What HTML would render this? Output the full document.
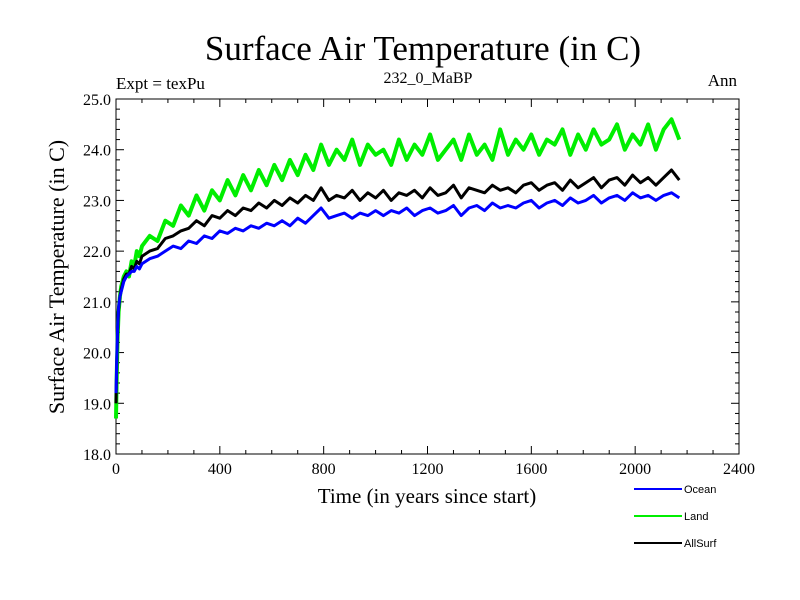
<!DOCTYPE html>
<html><head><meta charset="utf-8"><style>
body{margin:0;background:#fff}
svg{display:block}
text{font-family:"Liberation Serif",serif;fill:#000}
.lg{font-family:"Liberation Sans",sans-serif;font-size:11px}
</style></head><body>
<svg id="chart" width="800" height="600">
<text x="423" y="60" font-size="35" text-anchor="middle">Surface Air Temperature (in C)</text>
<text x="116" y="89" font-size="17">Expt = texPu</text>
<text x="428" y="83" font-size="16" text-anchor="middle">232_0_MaBP</text>
<text x="737" y="86" font-size="17" text-anchor="end">Ann</text>
<text x="427" y="503" font-size="21" text-anchor="middle">Time (in years since start)</text>
<text transform="translate(64,277) rotate(-90)" font-size="22" text-anchor="middle">Surface Air Temperature (in C)</text>
<g id="axes"></g>
<g id="series"></g>
<g id="legend"></g>
</svg>
<script>
const years=[0,3,6,10,15,20,30,40,50,60,70,80,90,100,130,160,190,220,250,280,310,340,370,400,430,460,490,520,550,580,610,640,670,700,730,760,790,820,850,880,910,940,970,1000,1030,1060,1090,1120,1150,1180,1210,1240,1270,1300,1330,1360,1390,1420,1450,1480,1510,1540,1570,1600,1630,1660,1690,1720,1750,1780,1810,1840,1870,1900,1930,1960,1990,2020,2050,2080,2110,2140,2170];
const ocean=[19.2,19.9,20.5,20.9,21.1,21.2,21.4,21.5,21.55,21.6,21.6,21.7,21.65,21.75,21.85,21.9,22.0,22.1,22.05,22.2,22.15,22.3,22.25,22.4,22.35,22.45,22.4,22.5,22.45,22.55,22.5,22.6,22.5,22.65,22.55,22.7,22.85,22.65,22.7,22.75,22.65,22.75,22.7,22.8,22.7,22.8,22.75,22.85,22.7,22.8,22.85,22.75,22.8,22.9,22.7,22.85,22.9,22.8,22.95,22.85,22.9,22.85,22.95,23.0,22.85,22.95,23.0,22.9,23.05,22.95,23.0,23.1,22.95,23.05,23.1,23.0,23.15,23.05,23.1,23.0,23.1,23.15,23.05];
const land=[18.7,19.6,20.3,20.8,21.1,21.3,21.5,21.6,21.5,21.8,21.7,22.0,21.9,22.1,22.3,22.2,22.6,22.5,22.9,22.7,23.1,22.8,23.2,23.0,23.4,23.1,23.5,23.2,23.6,23.3,23.7,23.4,23.8,23.5,23.9,23.6,24.1,23.7,24.0,23.8,24.2,23.7,24.1,23.9,24.0,23.7,24.2,23.8,24.1,23.9,24.3,23.8,24.0,24.2,23.8,24.3,23.9,24.1,23.8,24.4,23.9,24.2,24.0,24.3,23.9,24.2,24.1,24.4,23.9,24.3,24.0,24.4,24.1,24.2,24.5,24.0,24.3,24.1,24.5,24.0,24.4,24.6,24.2];
const allSurf=[19.0,19.8,20.4,20.85,21.1,21.25,21.45,21.55,21.55,21.7,21.65,21.8,21.75,21.9,22.0,22.05,22.25,22.3,22.4,22.45,22.6,22.5,22.7,22.65,22.8,22.7,22.85,22.8,22.95,22.85,23.0,22.9,23.05,22.95,23.1,23.0,23.25,23.0,23.1,23.05,23.2,23.0,23.15,23.05,23.2,23.0,23.15,23.1,23.2,23.05,23.25,23.1,23.15,23.3,23.05,23.25,23.2,23.15,23.3,23.2,23.25,23.15,23.3,23.35,23.2,23.3,23.35,23.2,23.4,23.25,23.35,23.45,23.25,23.4,23.45,23.3,23.5,23.35,23.45,23.3,23.45,23.6,23.4];
const xTicks=[0,400,800,1200,1600,2000,2400];
const yTicks=[18.0,19.0,20.0,21.0,22.0,23.0,24.0,25.0];
const seriesNames=["Land","AllSurf","Ocean"];
const seriesColors=["#00ee00","#000000","#0000ff"];
const seriesWidths=[4,3,3];
const legendNames=["Ocean","Land","AllSurf"];
const legendColors=["#0000ff","#00ee00","#000000"];

const L=116,R=739,T=99,B=454,X0=0,X1=2400,Y0=18,Y1=25;
const sx=v=>L+(v-X0)/(X1-X0)*(R-L);
const sy=v=>B-(v-Y0)/(Y1-Y0)*(B-T);
const NS="http://www.w3.org/2000/svg";
function mk(tag,attrs,parent){const e=document.createElementNS(NS,tag);for(const k in attrs)e.setAttribute(k,attrs[k]);parent.appendChild(e);return e;}
const axes=document.getElementById('axes');
const frame=mk('rect',{x:L,y:T,width:R-L,height:B-T,fill:'none',stroke:'#000','stroke-width':1},axes);


for(let v=0;v<=2400;v+=100){const major=v%400===0;const len=major?8:4;
 const a=mk('line',{x1:sx(v),x2:sx(v),y1:B,y2:B-len,stroke:'#000'},axes);
 
 const b=mk('line',{x1:sx(v),x2:sx(v),y1:T,y2:T+len,stroke:'#000'},axes);
 }
for(let i=0;i<=35;i++){const v=18+i*0.2;const major=i%5===0;const len=major?8:4;
 const a=mk('line',{x1:L,x2:L+len,y1:sy(v),y2:sy(v),stroke:'#000'},axes);
 
 const b=mk('line',{x1:R,x2:R-len,y1:sy(v),y2:sy(v),stroke:'#000'},axes);
 }
xTicks.forEach(v=>{const t=mk('text',{x:sx(v),y:B+20,'font-size':16,'text-anchor':'middle'},axes);t.textContent=v;
 });
yTicks.forEach(v=>{const t=mk('text',{x:L-5,y:sy(v)+6,'font-size':16,'text-anchor':'end'},axes);t.textContent=v.toFixed(1);
 });
const sg=document.getElementById('series');
[land,allSurf,ocean].forEach((arr,i)=>{
 const n=Math.min(arr.length,years.length);let d='';
 for(let j=0;j<n;j++)d+=(j?'L':'M')+sx(years[j]).toFixed(1)+','+sy(arr[j]).toFixed(1);
 const p=mk('path',{d:d,fill:'none',stroke:seriesColors[i],'stroke-width':seriesWidths[i],'stroke-linejoin':'round'},sg);
 
 });
const lg=document.getElementById('legend');
legendNames.forEach((nm,i)=>{const y=489+i*27;
 const ln=mk('line',{x1:634,x2:682,y1:y,y2:y,stroke:legendColors[i],'stroke-width':2},lg);
 
 const t=mk('text',{x:684,y:y+4,class:'lg'},lg);t.textContent=nm;
 });
</script>
</body></html>
